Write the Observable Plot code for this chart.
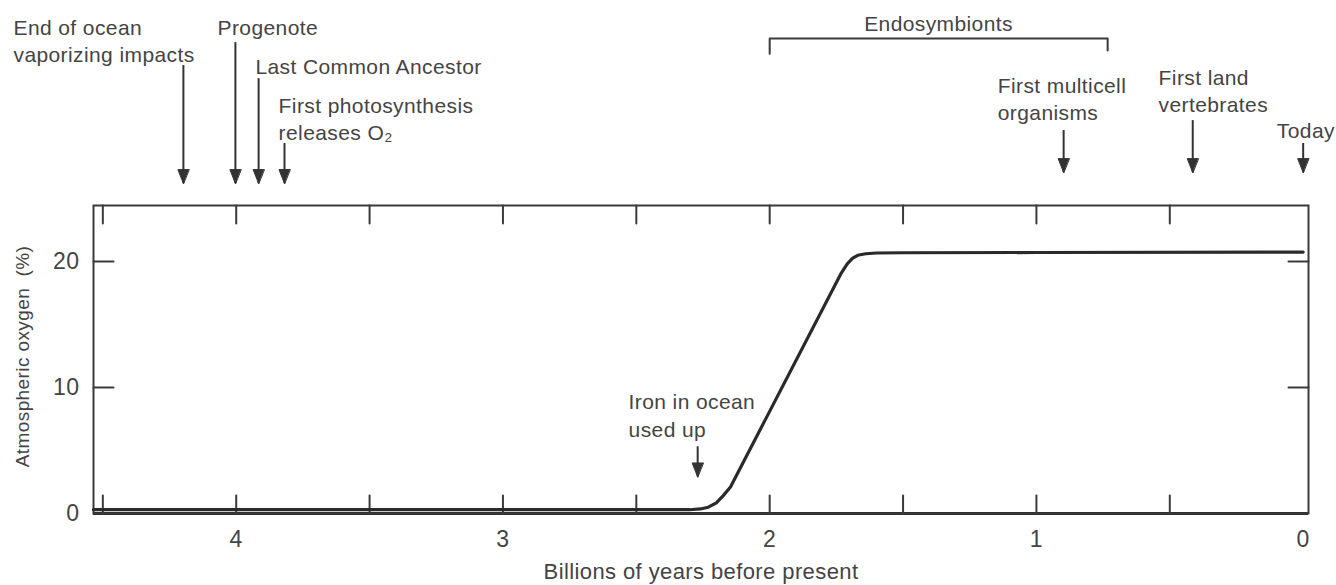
<!DOCTYPE html>
<html>
<head>
<meta charset="utf-8">
<script src="https://cdn.jsdelivr.net/npm/d3@7"></script>
<script src="https://cdn.jsdelivr.net/npm/@observablehq/plot@0.6"></script>
<style>
  html, body { margin: 0; padding: 0; background: #ffffff; }
</style>
</head>
<body>
<div id="chart"></div>
<script>
// Curve: atmospheric oxygen (%) versus billions of years before present
const curveYears  = [4.535, 3.0, 2.3, 2.26, 2.23, 2.2, 2.175, 2.147, 1.734, 1.71, 1.69, 1.67, 1.64, 1.6, 1.5, 1.0, 0];
const curveOxygen = [0.3,   0.3, 0.3, 0.36, 0.5,  0.85, 1.4,  2.1,   19.0,  19.8, 20.25, 20.5, 20.62, 20.68, 20.7, 20.72, 20.75];

// Axis ticks
const xTickLabels = [4, 3, 2, 1, 0];
const xTickMarks = [4.5, 4, 3.5, 3, 2.5, 2, 1.5, 1, 0.5];
const yTickLabels = [0, 10, 20];
const yTickMarks = [10, 20];
const xDomain = [4.535, -0.02];
const yDomain = [0, 24.45];

// Event annotations (text + arrows)
const eventLabels = ["End of ocean\nvaporizing impacts", "Progenote", "Last Common Ancestor", "First photosynthesis\nreleases O₂", "First multicell\norganisms", "First land\nvertebrates", "Today", "Iron in ocean\nused up"];
const eventTextX  = [4.835, 4.070, 3.928, 3.841, 1.145, 0.542, -0.119, 2.529];
const eventTextY  = [39.52, 39.52, 36.43, 33.33, 34.92, 35.56, 31.35, 9.8];
const eventAnchor = ["start", "start", "start", "start", "start", "start", "end", "start"];
const arrowX      = [4.198, 4.003, 3.916, 3.819, 0.898, 0.414, 0.0, 2.270];
const arrowTop    = [35.56, 37.38, 34.52, 29.37, 30.4, 31.19, 29.37, 5.3];
const arrowTip    = [26.19, 26.19, 26.19, 26.19, 27.06, 27.06, 27.06, 2.9];

// Endosymbionts bracket
const bracketLabel = "Endosymbionts";
const bracketLabelX = 1.367;
const bracketLabelY = 39.52;
const bracketX = [2.0, 2.0, 0.733, 0.733];
const bracketY = [36.5, 37.7, 37.7, 36.75];

const curveData = curveYears.map((x, i) => ({x, y: curveOxygen[i]}));
const events = eventLabels.map((label, i) => ({
  label, tx: eventTextX[i], ty: eventTextY[i], anchor: eventAnchor[i],
  ax: arrowX[i], top: arrowTop[i], tip: arrowTip[i]
}));
const bracketData = bracketX.map((x, i) => ({x, y: bracketY[i]}));

const tickShape = {draw(c, l) { c.moveTo(0, 0); c.lineTo(0, -l); }};
const headShape = {draw(c, l) { c.moveTo(0, -l); c.lineTo(5.5, 0); c.lineTo(-5.5, 0); c.closePath(); }};

const ink = "#3a3a3a";
const textInk = "#444444";

const chart = Plot.plot({
  width: 1336,
  height: 585,
  marginTop: 205,
  marginRight: 28,
  marginBottom: 72,
  marginLeft: 93,
  style: {fontFamily: "Liberation Sans, Arial, sans-serif", fontSize: "21px", color: textInk, background: "#ffffff", letterSpacing: "0.4px"},
  x: {domain: xDomain},
  y: {domain: yDomain},
  marks: [
    Plot.axisX({ticks: xTickLabels, tickSize: 0, tickPadding: 17, fontSize: 23, label: null, tickFormat: d3.format("d")}),
    Plot.axisY({ticks: yTickLabels, tickSize: 0, tickPadding: 14, fontSize: 23, label: null}),
    Plot.text(["Atmospheric oxygen\u00a0 (%)"], {frameAnchor: "left", textAnchor: "middle", rotate: -90, dx: -71, dy: -3, fontSize: 19, fill: textInk}),
    Plot.text(["Billions of years before present"], {frameAnchor: "bottom", dy: 65, fontSize: 22, fill: textInk}),
    Plot.frame({stroke: ink, strokeWidth: 2}),
    Plot.ruleY([0], {stroke: "#333", strokeWidth: 3}),
    Plot.vector(xTickMarks, {x: d => d, y: yDomain[0], length: 18, rotate: 0, anchor: "start", shape: tickShape, stroke: ink, strokeWidth: 2}),
    Plot.vector(xTickMarks, {x: d => d, y: yDomain[1], length: 18, rotate: 180, anchor: "start", shape: tickShape, stroke: ink, strokeWidth: 2}),
    Plot.vector(yTickMarks, {x: xDomain[0], y: d => d, length: 20, rotate: 90, anchor: "start", shape: tickShape, stroke: ink, strokeWidth: 2}),
    Plot.vector(yTickMarks, {x: xDomain[1], y: d => d, length: 20, rotate: -90, anchor: "start", shape: tickShape, stroke: ink, strokeWidth: 2}),
    Plot.line(curveData, {x: "x", y: "y", curve: "linear", stroke: "#2a2a2a", strokeWidth: 3.2, strokeLinejoin: "round"}),
    Plot.ruleX(events, {x: "ax", y1: "top", y2: "tip", stroke: "#333", strokeWidth: 2}),
    Plot.vector(events, {x: "ax", y: "tip", length: 14, rotate: 180, anchor: "end", shape: headShape, fill: "#333", stroke: "#333", strokeWidth: 1}),
    Plot.line(bracketData, {x: "x", y: "y", stroke: ink, strokeWidth: 2}),
    Plot.text([bracketLabel], {x: () => bracketLabelX, y: () => bracketLabelY, lineAnchor: "top", textAnchor: "middle", fontSize: 21, fill: textInk}),
    Plot.text(events, {filter: d => d.anchor === "start", x: "tx", y: "ty", text: "label", textAnchor: "start", lineAnchor: "top", lineHeight: 1.3, fontSize: 21, fill: textInk}),
    Plot.text(events, {filter: d => d.anchor === "end", x: "tx", y: "ty", text: "label", textAnchor: "end", lineAnchor: "top", lineHeight: 1.3, fontSize: 21, fill: textInk})
  ]
});
document.getElementById("chart").appendChild(chart);
</script>
</body>
</html>
